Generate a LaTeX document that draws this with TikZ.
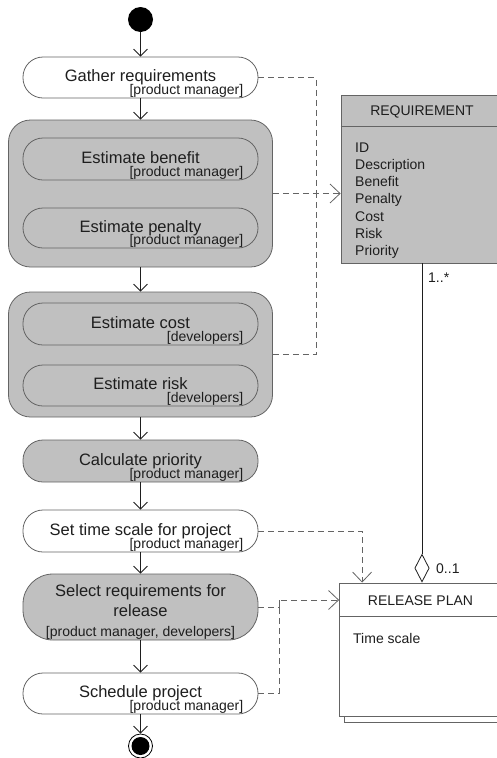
\documentclass[tikz,border=0pt]{standalone}
\usepackage{fontspec}
\setmainfont{Liberation Sans}
\usetikzlibrary{arrows.meta,shadows}
\definecolor{boxgray}{RGB}{192,192,192}
\definecolor{edge}{RGB}{100,100,100}
\definecolor{ink}{RGB}{30,30,30}
\begin{document}
\begin{tikzpicture}[x=1pt,y=-1pt,
  act/.style={draw=edge, line width=0.8pt, rounded corners=20pt, minimum width=235pt, inner sep=0pt, fill=white},
  grp/.style={draw=edge, line width=0.8pt, rounded corners=22pt, minimum width=264pt, inner sep=0pt, fill=boxgray},
  actname/.style={font=\fontsize{16.5}{20}\selectfont, text=ink, inner sep=0pt, anchor=base},
  role/.style={font=\fontsize{14}{16}\selectfont, text=ink, inner sep=0pt, anchor=base east},
  classbox/.style={draw=edge, line width=0.8pt, minimum width=162pt, inner sep=0pt},
  classtext/.style={font=\fontsize{14}{17}\selectfont, text=ink, inner sep=0pt},
  flow/.style={draw=ink, line width=0.8pt, -{Straight Barb[length=7pt,width=14pt]}},
  dep/.style={draw=edge, line width=0.8pt, dash pattern=on 6pt off 4pt},
  deparrow/.style={dep, -{Straight Barb[length=10pt,width=19pt]}}]

\useasboundingbox (0,0) rectangle (496,758);

% activity flow
\node[circle, fill=black, minimum size=25pt, inner sep=0pt] (start) at (140.5,19.5) {};
\node[act, minimum height=41pt] (gather) at (140.5,77.5) {};
\node[actname] (gather-t) at ([yshift=-4pt]gather.center) {Gather requirements};
\node[role] (gather-r) at ([shift={(-15,-4)}]gather.south east) {[product manager]};

\node[grp, minimum height=147pt] (grpA) at (140.5,193.5) {};
\node[act, fill=boxgray, minimum height=42pt] (benefit) at (140.5,159) {};
\node[actname] (benefit-t) at ([yshift=-4pt]benefit.center) {Estimate benefit};
\node[role] (benefit-r) at ([shift={(-15,-4)}]benefit.south east) {[product manager]};
\node[act, fill=boxgray, minimum height=40pt] (penalty) at (140.5,228) {};
\node[actname] (penalty-t) at ([yshift=-4pt]penalty.center) {Estimate penalty};
\node[role] (penalty-r) at ([shift={(-15,-4)}]penalty.south east) {[product manager]};

\node[grp, minimum height=125pt] (grpB) at (140.5,354.5) {};
\node[act, fill=boxgray, minimum height=42pt] (cost) at (140.5,324) {};
\node[actname] (cost-t) at ([yshift=-4pt]cost.center) {Estimate cost};
\node[role] (cost-r) at ([shift={(-15,-4)}]cost.south east) {[developers]};
\node[act, fill=boxgray, minimum height=41pt] (risk) at (140.5,385.5) {};
\node[actname] (risk-t) at ([yshift=-4pt]risk.center) {Estimate risk};
\node[role] (risk-r) at ([shift={(-15,-4)}]risk.south east) {[developers]};

\node[act, fill=boxgray, minimum height=42pt] (priority) at (140.5,461) {};
\node[actname] (priority-t) at ([yshift=-4pt]priority.center) {Calculate priority};
\node[role] (priority-r) at ([shift={(-15,-4)}]priority.south east) {[product manager]};

\node[act, minimum height=42pt] (timescale) at (140.5,531) {};
\node[actname] (timescale-t) at ([yshift=-4pt]timescale.center) {Set time scale for project};
\node[role] (timescale-r) at ([shift={(-15,-4)}]timescale.south east) {[product manager]};

\node[act, fill=boxgray, rounded corners=30pt, minimum height=66pt] (select) at (140.5,607) {};
\node[actname, anchor=north, align=center] (select-t) at ([yshift=-11pt]select.north) {Select requirements for\\release};
\node[role, anchor=base] (select-r) at ([yshift=4pt]select.south) {[product manager, developers]};

\node[act, minimum height=41pt] (schedule) at (140.5,693.5) {};
\node[actname] (schedule-t) at ([yshift=-4pt]schedule.center) {Schedule project};
\node[role] (schedule-r) at ([shift={(-15,-4)}]schedule.south east) {[product manager]};

\node[circle, draw=black, line width=0.8pt, minimum size=24pt, inner sep=0pt] (final) at (140.5,746) {};
\fill[black] (final.center) circle (9pt);

\draw[flow] (start) -- (gather);
\draw[flow] (gather) -- (grpA);
\draw[flow] (grpA) -- (grpB);
\draw[flow] (grpB) -- (priority);
\draw[flow] (priority) -- (timescale);
\draw[flow] (timescale) -- (select);
\draw[flow] (select) -- (schedule);
\draw[flow] (schedule) -- (final);

% classes
\node[classbox, fill=boxgray, minimum height=168pt] (req) at (422,179) {};
\node[classtext] (req-title) at ([yshift=-17pt]req.north) {REQUIREMENT};
\draw[draw=edge, line width=0.8pt] ([yshift=-32pt]req.north west) -- ([yshift=-32pt]req.north east);
\foreach \attr [count=\i] in {ID,Description,Benefit,Penalty,Cost,Risk,Priority}
  \node[classtext, anchor=base west] (req-\i) at (355,134.7+17.3*\i) {\attr};

\node[classbox, fill=white, minimum height=133pt,
  copy shadow={shadow xshift=5pt, shadow yshift=-6pt, fill=white, draw=edge}] (plan) at (420.5,649.5) {};
\node[classtext] (plan-title) at ([yshift=-18pt]plan.north) {RELEASE PLAN};
\draw[draw=edge, line width=0.8pt] ([yshift=-34pt]plan.north west) -- ([yshift=-34pt]plan.north east);
\node[classtext, anchor=base west] (plan-1) at (353,643) {Time scale};

\draw[draw=ink, line width=0.8pt, -{Diamond[open,length=29pt,width=15pt]}] (req.south) -- (req.south |- plan.north);
\node[classtext, anchor=base west] (many) at (428,282) {1..*};
\node[classtext, anchor=base west] (opt) at (436,573) {0..1};

% dependencies
\coordinate (merge) at (316,194);
\draw[dep] (gather.east) -| (merge);
\draw[dep] (grpB.east) -| (merge);
\draw[deparrow] (grpA.east) -- (grpA.east -| req.west);
\draw[deparrow] (timescale.east) -| ([xshift=23pt]plan.north west);
\coordinate (join) at (279,600);
\draw[deparrow] (select.east) -| (join) -- (join -| plan.west);
\draw[dep] (schedule.east) -| (join);
\end{tikzpicture}
\end{document}
